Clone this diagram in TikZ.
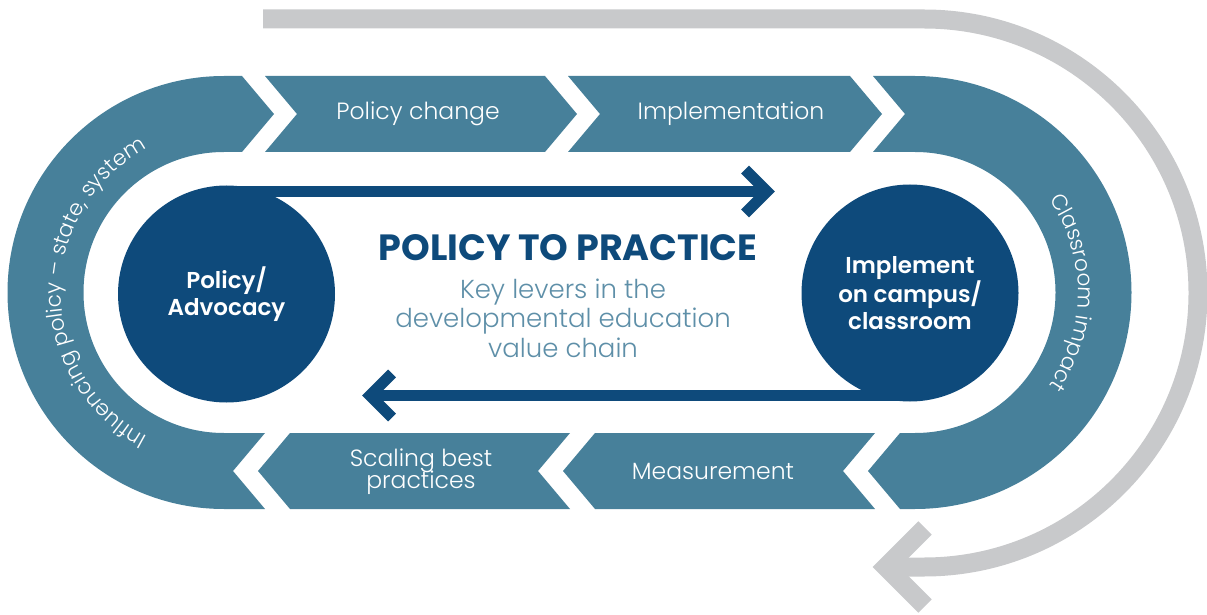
\documentclass[tikz,border=0pt]{standalone}
\usepackage{fontspec}
\usetikzlibrary{decorations.text}
\IfFontExistsTF{Poppins Light}{\newfontfamily\popL{Poppins Light}}{\newfontfamily\popL{Poppins}}
\IfFontExistsTF{Poppins SemiBold}{\newfontfamily\popS{Poppins SemiBold}}{\newfontfamily\popS{Poppins}[UprightFont=*Bold]}
\IfFontExistsTF{Poppins Bold}{\newfontfamily\popB{Poppins Bold}}{\newfontfamily\popB{Poppins}[UprightFont=*Bold]}
\definecolor{bandc}{RGB}{71,128,154}
\definecolor{darkc}{RGB}{14,74,123}
\definecolor{greyc}{RGB}{200,201,203}
\definecolor{subc}{RGB}{94,143,168}
\begin{document}
\begin{tikzpicture}[x=1pt,y=1pt,
  band/.style={fill=bandc,draw=none},
  circ/.style={circle,fill=darkc,draw=none,inner sep=0pt,minimum size=217pt,text=white,align=center,
     font=\popS\fontsize{23}{27}\selectfont},
  chevtext/.style={text=white,align=center,font=\popL\fontsize{23.5}{24}\selectfont},
  arrowline/.style={draw=darkc,line width=11pt,line join=miter,line cap=butt},
  greyline/.style={draw=greyc,line width=19pt,line join=miter,line cap=butt}]
\useasboundingbox (0,0) rectangle (1207,614);

% grey outer return arrow
\coordinate (gs) at (263,595);
\coordinate (gt) at (886,47);
\draw[greyline] (gs) -- (924,595) arc[start angle=90,end angle=-90,radius=274] -- (gt);
\draw[greyline] (gt) ++(39,39) -- (gt) -- ++(39,-39);

% band: left arc piece
\path[band] (242,538) -- (274,500) -- (242,462) -- (224,462)
  arc[start angle=90,end angle=270,radius=140.5] -- (265,181) -- (233,143) -- (265,105) -- (224,105)
  arc[start angle=270,end angle=90,radius=216.5] -- cycle;
% band: right arc piece
\path[band] (873,538) -- (915,538) arc[start angle=90,end angle=-90,radius=216.5]
  -- (900,105) -- (868,143) -- (900,181) -- (915,181)
  arc[start angle=-90,end angle=90,radius=140.5] -- (873,462) -- (905,500) -- cycle;
% top chevrons
\path[band] (265,538) -- (545,538) -- (577,500) -- (545,462) -- (265,462) -- (297,500) -- cycle;
\path[band] (568,538) -- (850,538) -- (882,500) -- (850,462) -- (568,462) -- (600,500) -- cycle;
% bottom chevrons
\path[band] (875,181) -- (595,181) -- (563,143) -- (595,105) -- (875,105) -- (843,143) -- cycle;
\path[band] (570,181) -- (290,181) -- (258,143) -- (290,105) -- (570,105) -- (538,143) -- cycle;

\node[chevtext] (pc) at (418,500) {Policy change};
\node[chevtext] (im) at (731,500) {Implementation};
\node[chevtext] (ms) at (713,143) {Measurement};
\node[chevtext] (sb) at (421,142) {Scaling best\\[-2pt]practices};

% arc texts
\path[decorate,decoration={text along path,text align=center,text color=white,
   text={|\popL\fontsize{21.5}{21.5}\selectfont|Influencing policy – state{,} system}}]
   (224,321.5) ++(250:163) arc[start angle=250,end angle=110,radius=163];
\path[decorate,decoration={text along path,text align=center,text color=white,
   text={|\popL\fontsize{21.5}{21.5}\selectfont|Classroom impact}}]
   (915,321.5) ++(40:163) arc[start angle=40,end angle=-40,radius=163];

% circles
\node[circ] (adv) at (226.5,320) {Policy/\\Advocacy};
\node[circ] (imp) at (910,321) {Implement\\on campus/\\classroom};

% dark arrows
\coordinate (ta) at (767,422.5);
\coordinate (ba) at (370,218.5);
\draw[arrowline] (adv.center |- ta) -- (ta);
\draw[arrowline] (ta) ++(-22,22) -- (ta) -- ++(-22,-22);
\draw[arrowline] (imp.center |- ba) -- (ba);
\draw[arrowline] (ba) ++(22,22) -- (ba) -- ++(22,-22);

% centre texts
\node[text=darkc,font=\popB\fontsize{36.5}{40}\selectfont] (title) at (568,366) {POLICY TO PRACTICE};
\node[text=subc,align=center,font=\popL\fontsize{26}{29.5}\selectfont] (sub) at (563,296)
  {Key levers in the\\developmental education\\value chain};
\end{tikzpicture}
\end{document}
